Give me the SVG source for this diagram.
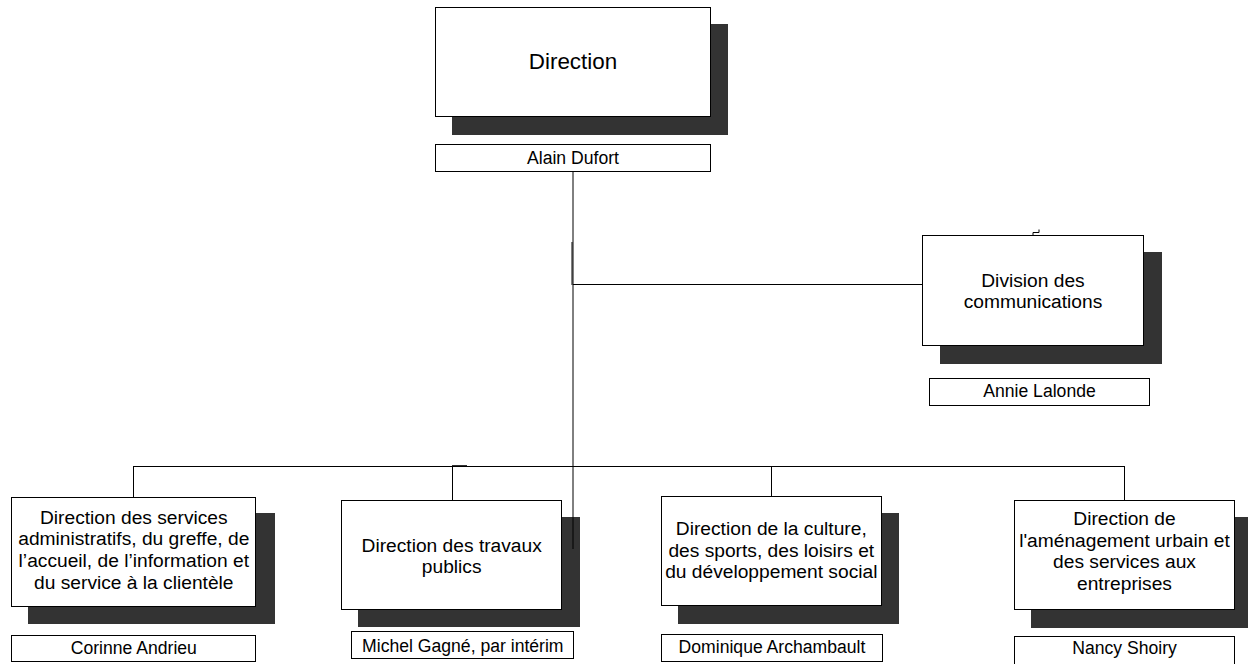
<svg xmlns="http://www.w3.org/2000/svg" width="1248" height="664" viewBox="0 0 1248 664">
<style>
.box{fill:#fff;stroke:#000;stroke-width:1}
.sh{fill:#333;stroke:none}
.t{font-family:"Liberation Sans",Arial,sans-serif;fill:#000;text-anchor:middle}
.lbl{font-size:19.2px}
.nm{font-size:17.6px}
.big{font-size:22.4px}
.c{fill:none;stroke:#000;stroke-width:1}
</style>
<rect width="1248" height="664" fill="#fff"/>
<g id="direction">
<rect class="sh" x="452" y="24" width="276" height="111"/>
<rect class="box" x="435.5" y="7.5" width="275" height="109"/>
<text class="t big" x="573" y="69">Direction</text>
</g>
<g id="alain-dufort">
<rect class="box" x="435.5" y="144.5" width="275" height="27"/>
<text class="t nm" x="573" y="163.5">Alain Dufort</text>
</g>
<g id="division-communications">
<rect class="sh" x="940" y="252" width="222" height="112"/>
<rect class="box" x="922.5" y="235.5" width="221" height="110"/>
<text class="t lbl" x="1033" y="286.5">Division des</text>
<text class="t lbl" x="1033" y="307.5">communications</text>
</g>
<g id="annie-lalonde">
<rect class="box" x="929.5" y="378.5" width="220" height="27"/>
<text class="t nm" x="1039.5" y="397">Annie Lalonde</text>
</g>
<g id="dir-services-admin">
<rect class="sh" x="28" y="513" width="247" height="111"/>
<rect class="box" x="11.5" y="497.5" width="244" height="109"/>
<text class="t lbl" x="133.8" y="523.5">Direction des services</text>
<text class="t lbl" x="133.8" y="545.3">administratifs, du greffe, de</text>
<text class="t lbl" x="133.8" y="567">l’accueil, de l’information et</text>
<text class="t lbl" x="133.8" y="588.7">du service à la clientèle</text>
</g>
<g id="corinne-andrieu">
<rect class="box" x="11.5" y="635.5" width="244" height="26"/>
<text class="t nm" x="133.8" y="653.5">Corinne Andrieu</text>
</g>
<g id="dir-travaux-publics">
<rect class="sh" x="358" y="517" width="222" height="110"/>
<rect class="box" x="341.5" y="500.5" width="220" height="109"/>
<text class="t lbl" x="451.7" y="551.5">Direction des travaux</text>
<text class="t lbl" x="451.7" y="572.5">publics</text>
</g>
<g id="michel-gagne">
<rect class="box" x="351.5" y="631.5" width="222" height="27"/>
<text class="t nm" x="462.8" y="651.7">Michel Gagné, par intérim</text>
</g>
<g id="dir-culture">
<rect class="sh" x="678" y="513" width="221" height="111"/>
<rect class="box" x="661.5" y="496.5" width="220" height="109"/>
<text class="t lbl" x="771.3" y="535">Direction de la culture,</text>
<text class="t lbl" x="771.3" y="556.7">des sports, des loisirs et</text>
<text class="t lbl" x="771.3" y="578.4">du développement social</text>
</g>
<g id="dominique-archambault">
<rect class="box" x="661.5" y="634.5" width="221" height="27"/>
<text class="t nm" x="772" y="653.3">Dominique Archambault</text>
</g>
<g id="dir-amenagement">
<rect class="sh" x="1031" y="517" width="221" height="111"/>
<rect class="box" x="1014.5" y="500.5" width="220" height="109"/>
<text class="t lbl" x="1124.5" y="525">Direction de</text>
<text class="t lbl" x="1124.5" y="546.7">l'aménagement urbain et</text>
<text class="t lbl" x="1124.5" y="568.4">des services aux</text>
<text class="t lbl" x="1124.5" y="590">entreprises</text>
</g>
<g id="nancy-shoiry">
<rect class="box" x="1014.5" y="636.5" width="220" height="30"/>
<text class="t nm" x="1124.5" y="653.5">Nancy Shoiry</text>
</g>
<g id="connectors">
<path class="c" d="M573,172 V549"/>
<path class="c" d="M572,242 V285"/>
<path class="c" d="M573,284.5 H922.5"/>
<path class="c" d="M1033,235 V232.5 H1039 V229.5"/>
<path class="c" d="M133.5,466.5 H1124.5"/>
<path class="c" d="M452,465.7 H467" stroke-width="1.6"/>
<path class="c" d="M133.5,466 V497.5"/>
<path class="c" d="M452.5,466 V500.5"/>
<path class="c" d="M771.5,466 V496.5"/>
<path class="c" d="M1124.5,466 V500.5"/>
</g>
</svg>
